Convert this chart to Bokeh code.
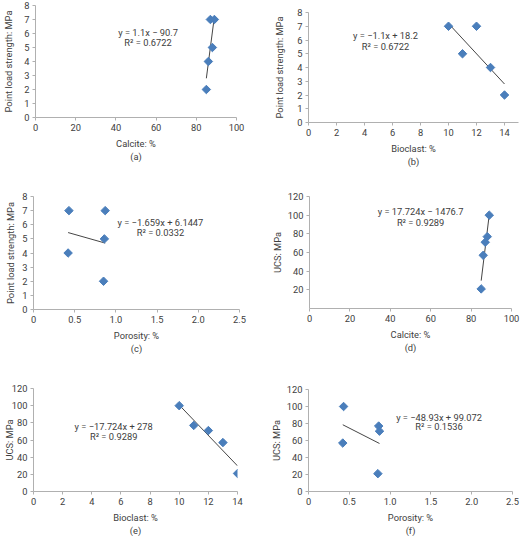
import math
from bokeh.plotting import figure
from bokeh.layouts import column, row
from bokeh.models import FixedTicker, Range1d
from bokeh.core.properties import value
from bokeh.embed import file_html
from bokeh.resources import INLINE

# ---- data ----
calcite = [85, 86, 87, 88, 89]
bioclast = [10, 11, 12, 13, 14]
porosity = [0.42, 0.43, 0.85, 0.86, 0.87]
pls_calcite = [2, 4, 7, 5, 7]
pls_bioclast = [7, 5, 7, 4, 2]
pls_porosity = [4, 7, 2, 5, 7]
ucs_calcite = [21, 57, 71, 77, 100]
ucs_bioclast = [100, 77, 71, 57, 21]
ucs_porosity = [57, 100, 21, 77, 71]

slopes = [1.1, -1.1, -1.659, 17.724, -17.724, -48.93]
intercepts = [-90.7, 18.2, 6.1447, -1476.7, 278, 99.072]
equations = ["y = 1.1x − 90.7", "y = −1.1x + 18.2", "y = −1.659x + 6.1447",
             "y = 17.724x − 1476.7", "y = −17.724x + 278", "y = −48.93x + 99.072"]
r2_labels = ["R² = 0.6722", "R² = 0.6722", "R² = 0.0332",
             "R² = 0.9289", "R² = 0.9289", "R² = 0.1536"]
captions = ["(a)", "(b)", "(c)", "(d)", "(e)", "(f)"]
xlabels = ["Calcite: %", "Bioclast: %", "Porosity: %", "Calcite: %", "Bioclast: %", "Porosity: %"]
ylabels = ["Point load strength: MPa"] * 3 + ["UCS: MPa"] * 3
xticks_calcite = [0, 20, 40, 60, 80, 100]
xticks_bioclast = [0, 2, 4, 6, 8, 10, 12, 14]
xticks_porosity = [0, 0.5, 1.0, 1.5, 2.0, 2.5]
yticks_pls = [0, 1, 2, 3, 4, 5, 6, 7, 8]
yticks_ucs = [0, 20, 40, 60, 80, 100, 120]
yticks_ucs_d = [20, 40, 60, 80, 100, 120]

FONT = "Roboto"
FS = "9.3px"
TXT = "#404040"
AX = "#b0b0b0"
BLUE = "#4a7ebb"

panels = [
    # xs, ys, xrange, yrange, xticks, yticks, size(w,h), borders(l,r,t,b), eq pos(x, y_eq, y_r2), ylabel standoff
    (calcite, pls_calcite, (0, 100), (0, 8), xticks_calcite, yticks_pls, (260, 180), (35, 24, 5, 63), (56, 6.07, 5.36), 7),
    (bioclast, pls_bioclast, (0, 15), (0, 8), xticks_bioclast, yticks_pls, (260, 180), (48, 2, 12, 58), (5.5, 6.33, 5.55), 9),
    (porosity, pls_porosity, (0, 2.5), (0, 8), xticks_porosity, yticks_pls, (260, 180), (33, 21, 16, 51), (1.54, 6.16, 5.42), 3),
    (calcite, ucs_calcite, (0, 100), (0, 120), xticks_calcite, yticks_ucs_d, (260, 180), (49, 9, 16, 52), (55, 103.4, 92.6), 2),
    (bioclast, ucs_bioclast, (0, 14), (0, 120), xticks_bioclast, yticks_ucs, (260, 178), (33, 23, 28, 41), (5.5, 75.4, 63.7), -6),
    (porosity, ucs_porosity, (0, 2.5), (0, 120), xticks_porosity, yticks_ucs, (260, 178), (48, 8, 29, 41), (1.6, 87.4, 76.3), 2),
]

figs = []
for i, (xs, ys, xr, yr, xt, yt, (w, h), (bl, br, bt, bb), (ex, ey, er), ystand) in enumerate(panels):
    p = figure(width=w, height=h, output_backend="svg", toolbar_location=None,
               x_range=Range1d(*xr), y_range=Range1d(*yr),
               min_border_left=bl, min_border_right=br, min_border_top=bt, min_border_bottom=bb)
    p.outline_line_color = None
    p.grid.visible = False
    p.background_fill_color = "white"
    p.border_fill_color = "white"
    for ax in (p.xaxis[0], p.yaxis[0]):
        ax.axis_line_color = AX
        ax.major_tick_line_color = AX
        ax.minor_tick_line_color = None
        ax.major_tick_in = 0
        ax.major_tick_out = 3
        ax.major_label_text_font = FONT
        ax.major_label_text_font_size = FS
        ax.major_label_text_color = TXT
        ax.major_label_standoff = 3
        ax.axis_label_text_font = FONT
        ax.axis_label_text_font_size = FS
        ax.axis_label_text_font_style = "normal"
        ax.axis_label_text_color = TXT
    p.xaxis[0].ticker = FixedTicker(ticks=xt)
    p.yaxis[0].ticker = FixedTicker(ticks=yt)
    if i in (2, 5):
        p.xaxis[0].major_label_overrides = {0: "0", 0.5: "0.5", 1.0: "1.0", 1.5: "1.5", 2.0: "2.0", 2.5: "2.5"}
    p.xaxis[0].axis_label = xlabels[i] + "\n" + captions[i]
    p.yaxis[0].axis_label = ylabels[i]
    p.xaxis[0].axis_label_standoff = 4
    p.yaxis[0].axis_label_standoff = ystand

    x0, x1 = min(xs), max(xs)
    p.line([x0, x1], [slopes[i] * x0 + intercepts[i], slopes[i] * x1 + intercepts[i]],
           line_color="#303030", line_width=0.9)
    p.scatter(xs, ys, marker="square", angle=math.pi / 4, size=6,
              fill_color=BLUE, line_color=BLUE)

    p.text([ex], [ey], text=[equations[i]], text_font=value(FONT), text_font_size=FS,
           text_color=TXT, text_align="center", text_baseline="middle")
    p.text([ex], [er], text=[r2_labels[i]], text_font=value(FONT), text_font_size=FS,
           text_color=TXT, text_align="center", text_baseline="middle")
    figs.append(column(p))

layout = column(row(figs[0], figs[1]), row(figs[2], figs[3]), row(figs[4], figs[5]))
open("out.html", "w").write(file_html(layout, INLINE))
